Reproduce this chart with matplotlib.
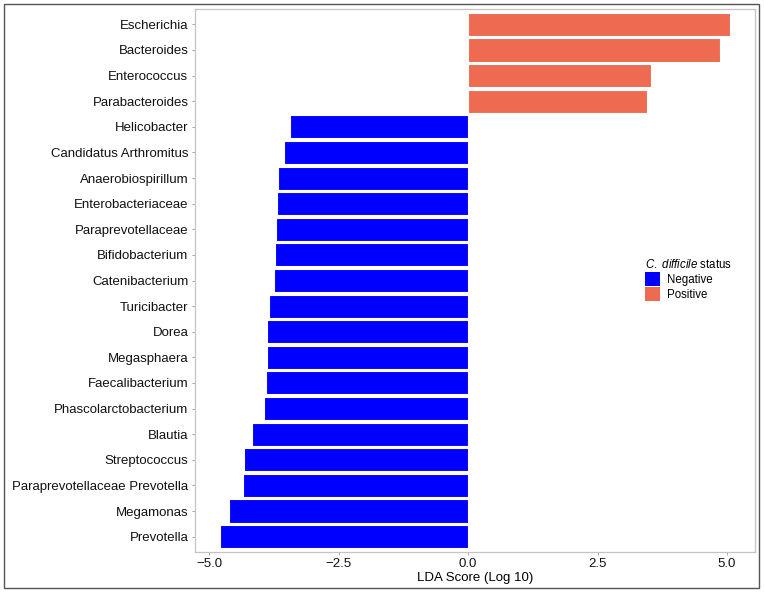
import numpy as np
import matplotlib
matplotlib.use("Agg")
import matplotlib.pyplot as plt
from matplotlib.patches import Patch, Rectangle

plt.rcParams["font.family"] = ["Liberation Sans", "DejaVu Sans"]
plt.rcParams["mathtext.fontset"] = "custom"
plt.rcParams["mathtext.rm"] = "Liberation Sans"
plt.rcParams["mathtext.it"] = "Liberation Sans:italic"
plt.rcParams["axes.unicode_minus"] = True

# top to bottom
genera = [
    "Escherichia", "Bacteroides", "Enterococcus", "Parabacteroides",
    "Helicobacter", "Candidatus Arthromitus", "Anaerobiospirillum",
    "Enterobacteriaceae", "Paraprevotellaceae", "Bifidobacterium",
    "Catenibacterium", "Turicibacter", "Dorea", "Megasphaera",
    "Faecalibacterium", "Phascolarctobacterium", "Blautia",
    "Streptococcus", "Paraprevotellaceae Prevotella", "Megamonas",
    "Prevotella",
]
lda = [
    5.05, 4.87, 3.53, 3.45,
    -3.45, -3.55, -3.67,
    -3.69, -3.71, -3.74,
    -3.745, -3.85, -3.88, -3.89,
    -3.91, -3.94, -4.18,
    -4.33, -4.35, -4.61,
    -4.79,
]
status = ["Positive"] * 4 + ["Negative"] * 17

colors = {"Negative": "#0000FF", "Positive": "#EE6A50"}

fig = plt.figure(figsize=(7.64, 5.92), dpi=100)
ax = fig.add_axes([194.7 / 764, 1 - 552 / 592, (755 - 194.7) / 764, (552 - 9) / 592])

n = len(genera)
ypos = np.arange(n)[::-1]
ax.barh(ypos, lda, height=0.9, color=[colors[s] for s in status],
        edgecolor="white", linewidth=0.8)

ax.set_yticks(ypos)
ax.set_yticklabels(genera)
ax.set_ylim(-0.6, n - 0.4)
lo, hi = min(lda), max(lda)
pad = (hi - lo) * 0.05
ax.set_xlim(lo - pad, hi + pad)
ax.set_xticks([-5.0, -2.5, 0.0, 2.5, 5.0])
ax.set_xticklabels(["\u22125.0", "\u22122.5", "0.0", "2.5", "5.0"])
ax.set_xlabel("LDA Score (Log 10)", fontsize=9.5, labelpad=1)

ax.tick_params(axis="both", labelsize=9.5, length=2.5, width=0.6,
               color="#999999", pad=2, labelcolor="#111111")
for sp in ax.spines.values():
    sp.set_color("#C4C4C4")
    sp.set_linewidth(0.9)

handles = [Patch(facecolor=colors["Negative"], label="Negative"),
           Patch(facecolor=colors["Positive"], label="Positive")]
leg = fig.legend(handles=handles, loc="upper left",
                 bbox_to_anchor=(640 / 764, 1 - 253 / 592),
                 title=r"$\it{C.\ difficile}$ status", title_fontsize=8.3,
                 fontsize=8.3, frameon=False, handlelength=1.35, handleheight=1.45,
                 handletextpad=0.55, labelspacing=0.12, alignment="left",
                 borderaxespad=0)

fig.patches.append(Rectangle((4 / 764, 4 / 592), 755 / 764, 584 / 592,
                             transform=fig.transFigure, fill=False,
                             edgecolor="#555555", linewidth=1))

fig.savefig("out.png", dpi=100)
plt.close(fig)
